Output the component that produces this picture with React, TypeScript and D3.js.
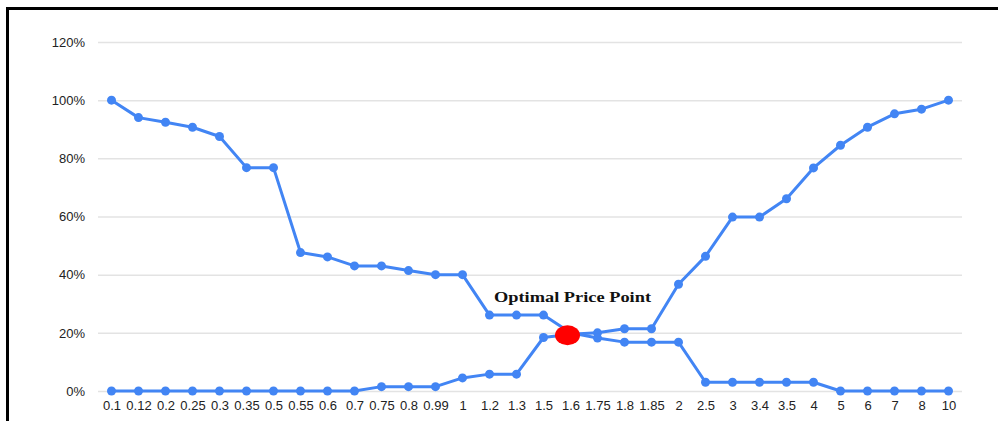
import React, { useRef, useEffect } from 'react';
import * as d3 from 'd3';

const prices = ['0.1', '0.12', '0.2', '0.25', '0.3', '0.35', '0.5', '0.55', '0.6', '0.7', '0.75', '0.8', '0.99', '1', '1.2', '1.3', '1.5', '1.6', '1.75', '1.8', '1.85', '2', '2.5', '3', '3.4', '3.5', '4', '5', '6', '7', '8', '10'];

// falling curve (too cheap / cheap)
const tooCheap = [1.0, 0.94, 0.924, 0.907, 0.875, 0.768, 0.768, 0.476, 0.461, 0.43, 0.43, 0.414, 0.4, 0.4, 0.261, 0.261, 0.261, 0.2, 0.182, 0.168, 0.168, 0.168, 0.03, 0.03, 0.03, 0.03, 0.03, 0, 0, 0, 0, 0];

// rising curve (too expensive / expensive)
const tooExpensive = [0, 0, 0, 0, 0, 0, 0, 0, 0, 0, 0.015, 0.015, 0.015, 0.045, 0.058, 0.058, 0.184, 0.195, 0.2, 0.214, 0.214, 0.367, 0.463, 0.598, 0.598, 0.661, 0.767, 0.845, 0.907, 0.953, 0.969, 1.0];

const yTicks = [0, 0.2, 0.4, 0.6, 0.8, 1.0, 1.2];

const optimalPrice = '1.6';
const optimalValue = 0.195;
const annotation = 'Optimal Price Point';

export default function App() {
  const width = 998;
  const height = 421;
  const svgRef = useRef<SVGSVGElement>(null);

  const margin = { top: 42, bottom: 30, left: 98, right: 36 };
  const blue = '#4285f4';

  useEffect(() => {
    document.body.style.margin = '0';
    const svg = d3.select(svgRef.current);
    svg.selectAll('*').remove();

    const x = d3.scalePoint<string>()
      .domain(prices)
      .range([margin.left, width - margin.right])
      .padding(0.5);

    const y = d3.scaleLinear()
      .domain([0, 1.2])
      .range([height - margin.bottom, margin.top]);

    svg.append('rect')
      .attr('width', width).attr('height', height).attr('fill', '#fff');

    // frame
    svg.append('path')
      .attr('d', `M7.5,${height + 2}V8.5H${width + 2}`)
      .attr('fill', 'none')
      .attr('stroke', '#000')
      .attr('stroke-width', 3);

    // grid
    const yAxis = svg.append('g')
      .attr('transform', `translate(${margin.left},0)`)
      .call(d3.axisLeft(y).tickValues(yTicks).tickFormat(d3.format('.0%')).tickSize(-(width - margin.left - margin.right)).tickPadding(13));
    yAxis.select('.domain').remove();
    yAxis.selectAll('.tick line').attr('stroke', '#e3e3e3').attr('stroke-width', 1.5);
    yAxis.selectAll('.tick text')
      .attr('fill', '#222')
      .attr('font-family', 'Liberation Sans, Arial, sans-serif')
      .attr('font-size', 13);

    const xAxis = svg.append('g')
      .attr('transform', `translate(0,${height - margin.bottom})`)
      .call(d3.axisBottom(x).tickSize(0).tickPadding(10));
    xAxis.select('.domain').remove();
    xAxis.selectAll('.tick text')
      .attr('fill', '#222')
      .attr('font-family', 'Liberation Sans, Arial, sans-serif')
      .attr('font-size', 13);

    const line = d3.line<number>()
      .x((d, i) => x(prices[i]) as number)
      .y(d => y(d));

    [tooExpensive, tooCheap].forEach(series => {
      svg.append('path')
        .datum(series)
        .attr('fill', 'none')
        .attr('stroke', blue)
        .attr('stroke-width', 3)
        .attr('stroke-linejoin', 'round')
        .attr('d', line);
      svg.append('g')
        .selectAll('circle')
        .data(series)
        .join('circle')
        .attr('cx', (d, i) => x(prices[i]) as number)
        .attr('cy', d => y(d))
        .attr('r', 4.5)
        .attr('fill', blue);
    });

    // optimal point marker
    const ox = (x(optimalPrice) as number) - 3;
    svg.append('ellipse')
      .attr('cx', ox)
      .attr('cy', y(optimalValue) + 1)
      .attr('rx', 12.5)
      .attr('ry', 10)
      .attr('fill', '#ff0000');

    svg.append('text')
      .attr('x', ox + 5)
      .attr('y', y(optimalValue) - 32)
      .attr('text-anchor', 'middle')
      .attr('font-family', 'Liberation Serif, DejaVu Serif, serif')
      .attr('font-weight', 'bold')
      .attr('font-size', 15)
      .attr('fill', '#111')
      .attr('textLength', 157)
      .attr('lengthAdjust', 'spacingAndGlyphs')
      .text(annotation);
  }, []);

  return <svg ref={svgRef} width={width} height={height} style={{ display: 'block' }} />;
}
